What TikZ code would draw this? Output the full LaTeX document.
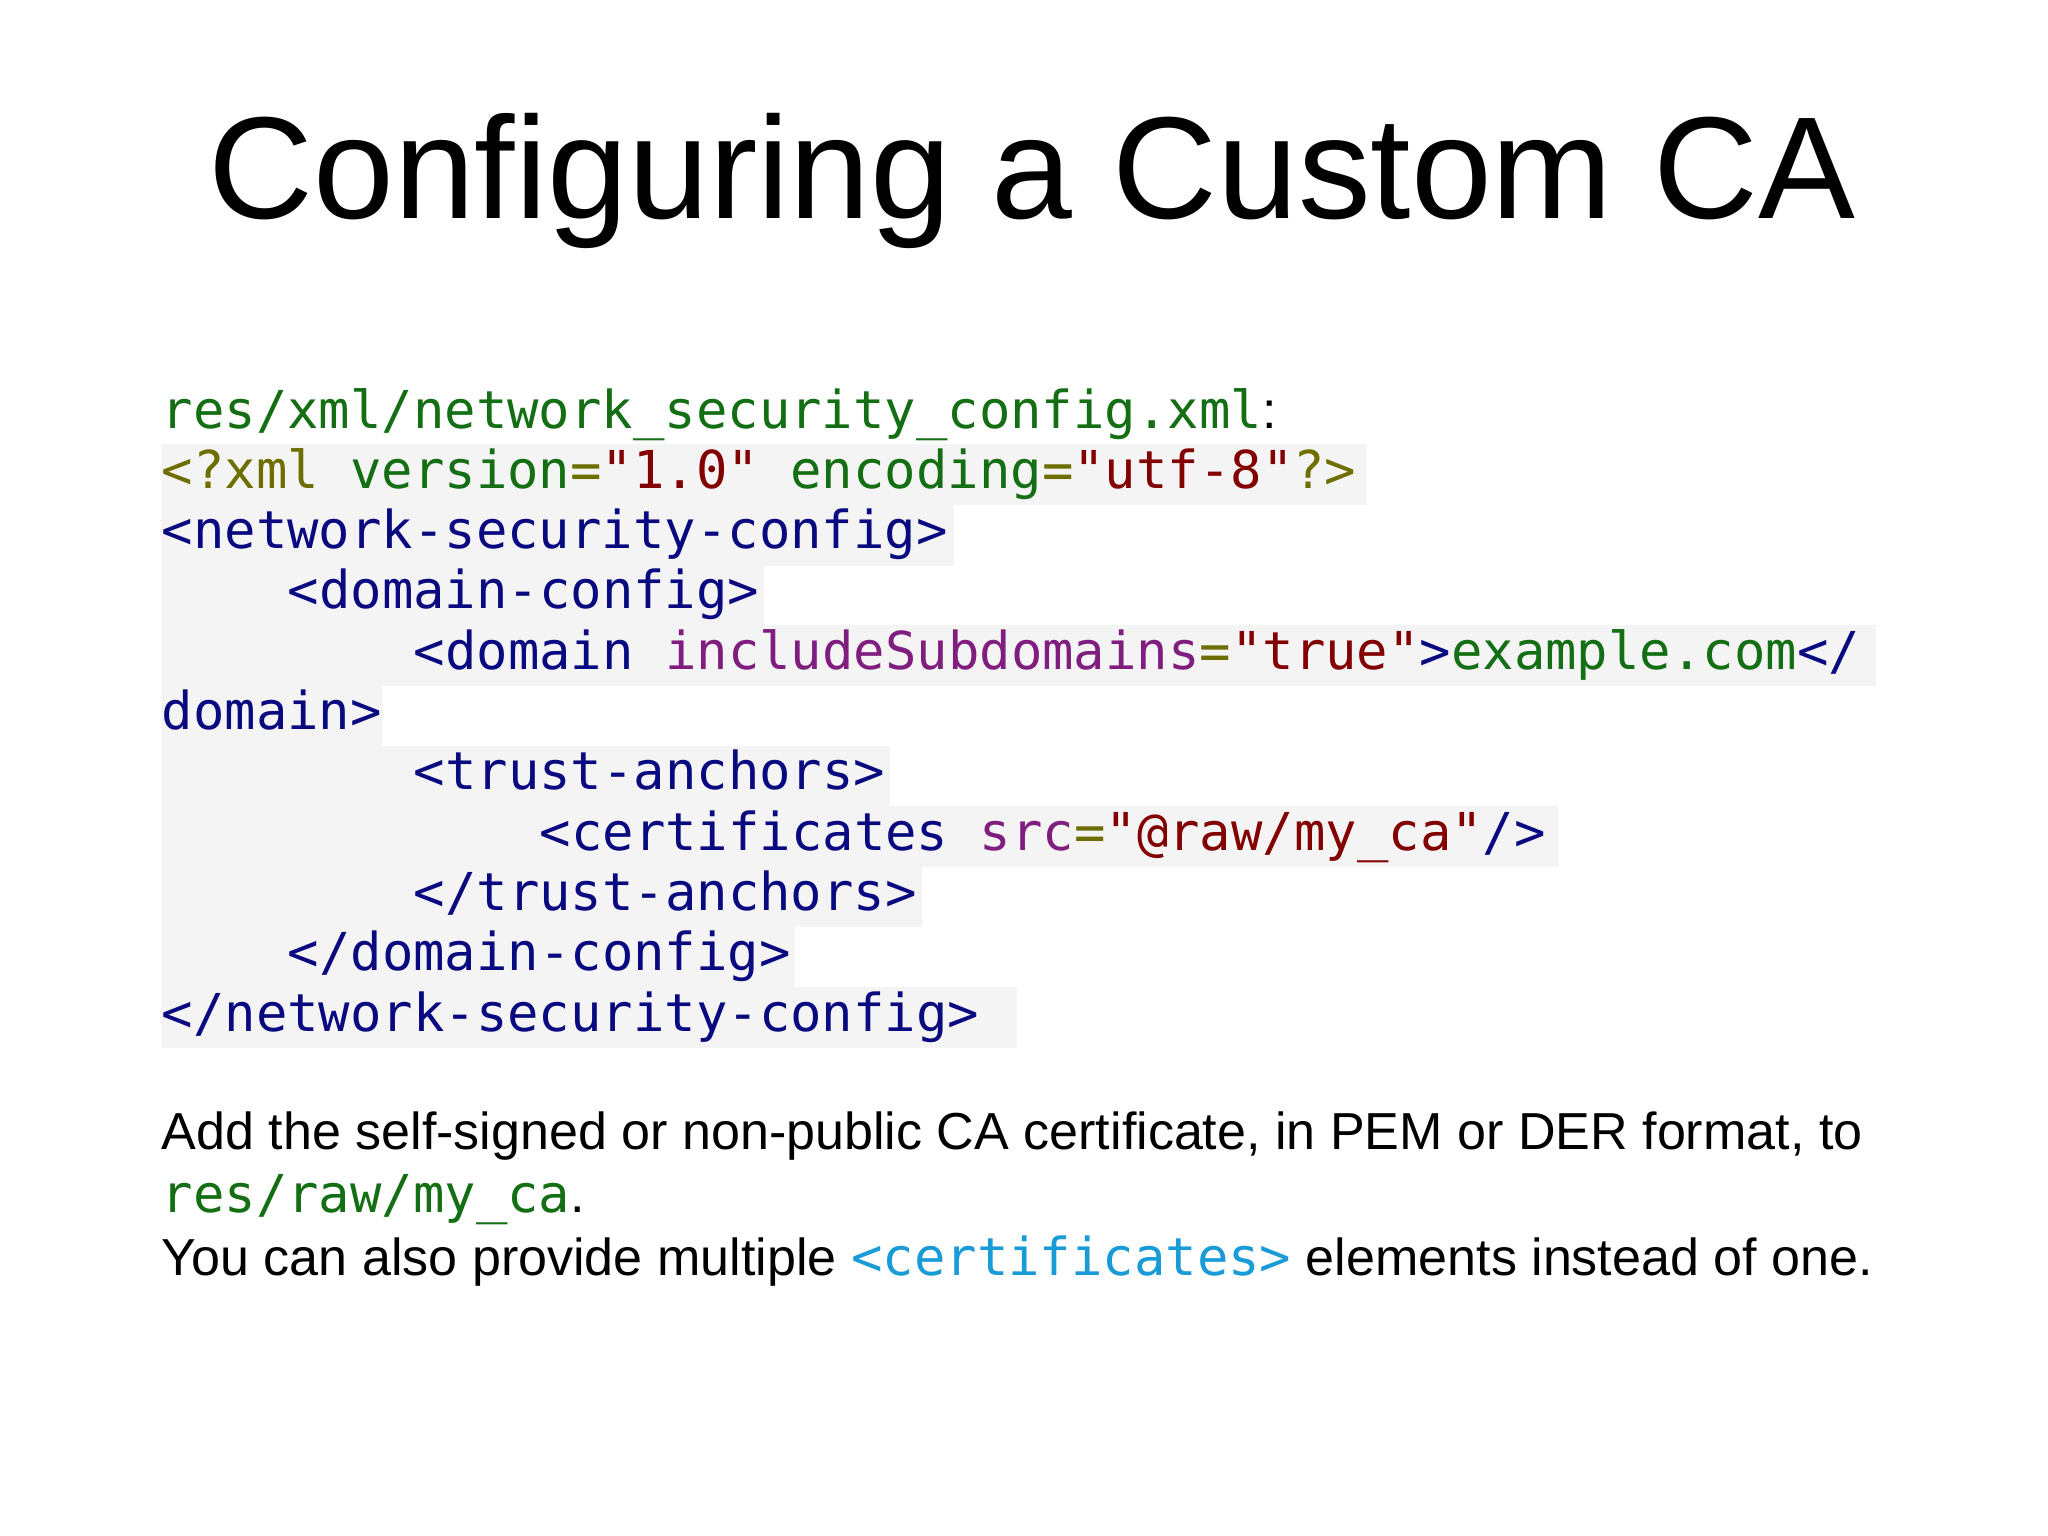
\documentclass[tikz,border=0pt]{standalone}
\usepackage{fontspec}
\setmainfont{Liberation Sans}
\newfontfamily\codefont{DejaVu Sans Mono}
\definecolor{cgreen}{RGB}{20,110,20}
\definecolor{colive}{RGB}{110,110,0}
\definecolor{cred}{RGB}{130,0,0}
\definecolor{cnavy}{RGB}{10,10,128}
\definecolor{cpurp}{RGB}{128,30,128}
\definecolor{ccyan}{RGB}{25,155,215}
\definecolor{hl}{RGB}{244,244,244}
\newcommand\cG[1]{\textcolor{cgreen}{#1}}
\newcommand\cO[1]{\textcolor{colive}{#1}}
\newcommand\cR[1]{\textcolor{cred}{#1}}
\newcommand\cN[1]{\textcolor{cnavy}{#1}}
\newcommand\cP[1]{\textcolor{cpurp}{#1}}
\begin{document}
\begin{tikzpicture}[x=0.01cm,y=-0.01cm,
  code/.style={anchor=base west,inner sep=0pt,font=\codefont\fontsize{14.85}{18}\selectfont},
  body/.style={anchor=base west,inner sep=0pt,font=\fontsize{14.8}{17}\selectfont}]
\useasboundingbox (0,0) rectangle (2048,1536);
\fill[white] (0,0) rectangle (2048,1536);
\foreach \i/\e in {1/1367,2/954,3/764,4/1876,5/383,6/890,7/1559,8/922,9/795,10/1017}{
  \fill[hl] (161,{428+\i*60.3-44}) rectangle (\e,{428+\i*60.3+17});
}
\node[anchor=base,inner sep=0pt,font=\fontsize{41.3}{50}\selectfont] (title) at (1032,218) {Configuring a Custom CA};
\node[code] (l1) at (161,428) {\cG{res/xml/network\_security\_config.xml}\textcolor{black}{\normalfont\fontsize{14.8}{17}\selectfont:}};
\node[code] (l2) at (161,488.3) {\cO{<?xml} \cG{version}\cO{=}\cR{"1.0"} \cG{encoding}\cO{=}\cR{"utf-8"}\cO{?>}};
\node[code] (l3) at (161,548.6) {\cN{<network-security-config>}};
\node[code] (l4) at (287,608.9) {\cN{<domain-config>}};
\node[code] (l5) at (413,669.2) {\cN{<domain} \cP{includeSubdomains}\cO{=}\cR{"true"}\cN{>}\cG{example.com}\cN{</}};
\node[code] (l6) at (161,729.5) {\cN{domain>}};
\node[code] (l7) at (413,789.8) {\cN{<trust-anchors>}};
\node[code] (l8) at (539,850.1) {\cN{<certificates} \cP{src}\cO{=}\cR{"@raw/my\_ca"}\cN{/>}};
\node[code] (l9) at (413,910.4) {\cN{</trust-anchors>}};
\node[code] (l10) at (287,970.7) {\cN{</domain-config>}};
\node[code] (l11) at (161,1031) {\cN{</network-security-config>}};
\node[body] (b1) at (161,1149) {Add the self-signed or non-public CA certificate, in PEM or DER format, to};
\node[body] (b2) at (161,1212) {{\codefont\fontsize{14.85}{18}\selectfont\cG{res/raw/my\_ca}}.};
\node[body] (b3) at (161,1275) {You can also provide multiple {\codefont\fontsize{14.85}{18}\selectfont\textcolor{ccyan}{<certificates>}} elements instead of one.};
\end{tikzpicture}
\end{document}
